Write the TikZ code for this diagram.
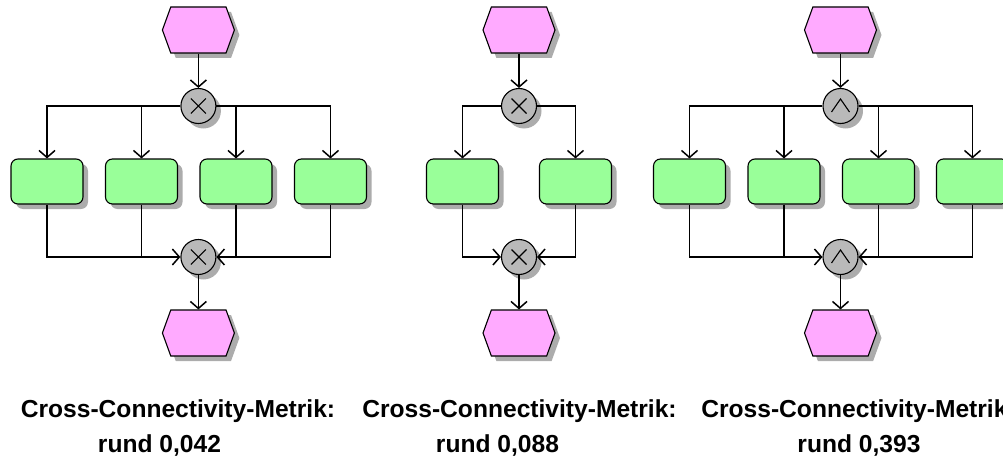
\documentclass[tikz,border=0pt]{standalone}
\usepackage{fontspec}
\setmainfont{Liberation Sans}
\usetikzlibrary{shapes.symbols, shadows, arrows.meta}

\definecolor{evfill}{RGB}{255,170,255}
\definecolor{fnfill}{RGB}{153,255,153}
\definecolor{opfill}{RGB}{185,185,185}
\definecolor{shade}{RGB}{172,172,172}

\tikzset{
  shadowed/.style={general shadow={fill=shade, draw=none, shadow xshift=5pt, shadow yshift=-5pt}},
  event/.style={signal, signal to=west and east, signal pointer angle=140,
    minimum width=72pt, minimum height=46pt, inner sep=0pt,
    draw, line width=1.1pt, fill=evfill, shadowed},
  func/.style={rectangle, rounded corners=7pt, minimum width=72pt, minimum height=45pt,
    inner sep=0pt, draw, line width=1.1pt, fill=fnfill, shadowed},
  conn/.style={circle, minimum size=35pt, inner sep=0pt, draw, line width=1.1pt,
    fill=opfill, shadowed},
  xorop/.style={conn, path picture={
    \draw[line width=1.1pt]
      (path picture bounding box.center) ++(-7.5pt,-7.5pt) -- ++(15pt,15pt)
      (path picture bounding box.center) ++(-7.5pt,7.5pt) -- ++(15pt,-15pt);}},
  andop/.style={conn, path picture={
    \draw[line width=1.1pt]
      (path picture bounding box.center) ++(-9pt,-6pt) -- ++(9pt,13pt) -- ++(9pt,-13pt);}},
  wire/.style={line width=1.5pt},
  flow/.style={wire, -{Straight Barb[length=7pt, width=16pt, line width=1.5pt]}},
  caption/.style={anchor=base, inner sep=0pt, font=\fontsize{24.6}{30}\selectfont\bfseries}
}

\begin{document}
\begin{tikzpicture}[x=1pt, y=-1pt]
\useasboundingbox (0,0) rectangle (1003,460);

% ---- XOR split into four branches ----
\node[event] (E1t) at (198.4,30) {};
\node[xorop] (X1t) at (198.4,106) {};
\node[func] (F1a) at (47,181.5) {};
\node[func] (F1b) at (141.5,181.5) {};
\node[func] (F1c) at (236,181.5) {};
\node[func] (F1d) at (330.5,181.5) {};
\node[xorop] (X1b) at (198.4,257) {};
\node[event] (E1b) at (198.4,333) {};

\draw[flow] (E1t) -- (X1t);
\draw[flow] (X1t.west) -| (F1a.north);
\draw[flow] (X1t.west -| F1b.north) -- (F1b.north);
\draw[flow] (X1t.east) -| (F1d.north);
\draw[flow] (X1t.east -| F1c.north) -- (F1c.north);
\draw[flow] (F1a.south) |- (X1b.west);
\draw[wire] (F1b.south) -- (F1b.south |- X1b.west);
\draw[flow] (F1d.south) |- (X1b.east);
\draw[wire] (F1c.south) -- (F1c.south |- X1b.east);
\draw[flow] (X1b) -- (E1b);

% ---- XOR split into two branches ----
\node[event] (E2t) at (519,30) {};
\node[xorop] (X2t) at (519,106) {};
\node[func] (F2a) at (462.5,181.5) {};
\node[func] (F2b) at (575.5,181.5) {};
\node[xorop] (X2b) at (519,257) {};
\node[event] (E2b) at (519,333) {};

\draw[flow] (E2t) -- (X2t);
\draw[flow] (X2t.west) -| (F2a.north);
\draw[flow] (X2t.east) -| (F2b.north);
\draw[flow] (F2a.south) |- (X2b.west);
\draw[flow] (F2b.south) |- (X2b.east);
\draw[flow] (X2b) -- (E2b);

% ---- AND split into four branches ----
\node[event] (E3t) at (840.5,30) {};
\node[andop] (A3t) at (840.5,106) {};
\node[func] (F3a) at (689.5,181.5) {};
\node[func] (F3b) at (784,181.5) {};
\node[func] (F3c) at (878.5,181.5) {};
\node[func] (F3d) at (972.5,181.5) {};
\node[andop] (A3b) at (840.5,257) {};
\node[event] (E3b) at (840.5,333) {};

\draw[flow] (E3t) -- (A3t);
\draw[flow] (A3t.west) -| (F3a.north);
\draw[flow] (A3t.west -| F3b.north) -- (F3b.north);
\draw[flow] (A3t.east) -| (F3d.north);
\draw[flow] (A3t.east -| F3c.north) -- (F3c.north);
\draw[flow] (F3a.south) |- (A3b.west);
\draw[wire] (F3b.south) -- (F3b.south |- A3b.west);
\draw[flow] (F3d.south) |- (A3b.east);
\draw[wire] (F3c.south) -- (F3c.south |- A3b.east);
\draw[flow] (A3b) -- (E3b);

% ---- captions ----
\node[caption] (L1a) at (178,417) {Cross-Connectivity-Metrik:};
\node[caption] (L1b) at (159.5,452) {rund 0,042};
\node[caption] (L2a) at (519.5,417) {Cross-Connectivity-Metrik:};
\node[caption] (L2b) at (497.5,452) {rund 0,088};
\node[caption] (L3a) at (858.5,417) {Cross-Connectivity-Metrik:};
\node[caption] (L3b) at (859,452) {rund 0,393};
\end{tikzpicture}
\end{document}
